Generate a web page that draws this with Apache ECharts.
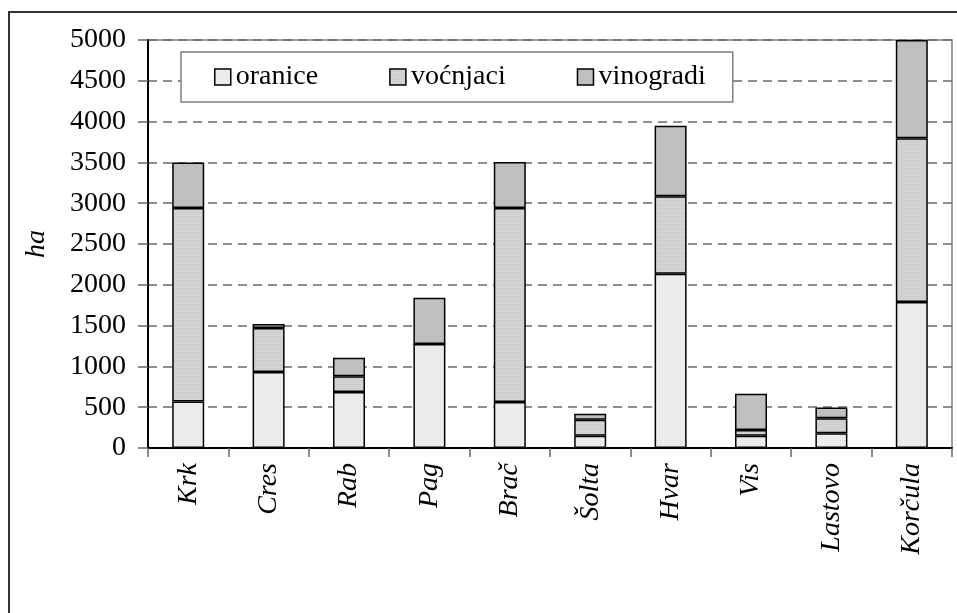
<!DOCTYPE html>
<html>
<head>
<meta charset="utf-8">
<script src="https://cdn.jsdelivr.net/npm/echarts@6/dist/echarts.min.js"></script>
<style>
  html, body { margin: 0; padding: 0; background: #ffffff; }
  #chart { width: 957px; height: 613px; }
</style>
</head>
<body>
<div id="chart"></div>
<script>
// Islands and land use (hectares), stacked per island
const categories = ['Krk', 'Cres', 'Rab', 'Pag', 'Brač', 'Šolta', 'Hvar', 'Vis', 'Lastovo', 'Korčula'];
const oranice   = [570, 930, 685, 1275, 565, 150, 2135, 150, 180, 1790];
const vocnjaci  = [2370, 540, 195, 0, 2375, 195, 950, 70, 185, 2005];
const vinogradi = [560, 50, 225, 565, 565, 75, 865, 445, 130, 1205];
const seriesNames = ['oranice', 'voćnjaci', 'vinogradi'];
const yTicks = [0, 500, 1000, 1500, 2000, 2500, 3000, 3500, 4000, 4500, 5000];

const FONT = '"Liberation Serif", "Times New Roman", serif';
const FS = 28;

// small dotted fill patterns
function makePattern(base, dot, cells) {
  const c = document.createElement('canvas');
  c.width = 4; c.height = 4;
  const ctx = c.getContext('2d');
  ctx.fillStyle = base;
  ctx.fillRect(0, 0, 4, 4);
  ctx.fillStyle = dot;
  cells.forEach(([x, y]) => ctx.fillRect(x, y, 1, 1));
  return { image: c, repeat: 'repeat' };
}
const fillOranice = makePattern('#eeeeee', '#dadada', [[0, 0], [2, 2]]);
const fillVocnjaci = makePattern('#d6d6d6', '#c2c2c2', [[0, 0], [2, 0], [1, 2], [3, 2]]);
const fillVinogradi = '#c0c0c0';

const chart = echarts.init(document.getElementById('chart'), null, { renderer: 'canvas' });

function barSeries(name, data, color) {
  return {
    name: name,
    type: 'bar',
    stack: 'total',
    data: data,
    barWidth: 32,
    itemStyle: { color: color, borderColor: '#000000', borderWidth: 1.5 },
    emphasis: { disabled: true },
    animation: false
  };
}

chart.setOption({
  backgroundColor: '#ffffff',
  animation: false,
  textStyle: { fontFamily: FONT },
  graphic: [{
    type: 'rect',
    shape: { x: 9, y: 12, width: 960, height: 640 },
    style: { fill: 'none', stroke: '#333333', lineWidth: 2 },
    silent: true,
    z: 100
  }],
  grid: {
    left: 148, right: 5, top: 40, bottom: 165,
    show: true,
    borderColor: '#808080',
    borderWidth: 1.5,
    backgroundColor: 'transparent'
  },
  legend: {
    data: seriesNames,
    left: 181,
    top: 52,
    orient: 'horizontal',
    icon: 'rect',
    itemWidth: 16,
    itemHeight: 16,
    itemGap: 71,
    padding: [11, 27, 11, 33],
    backgroundColor: '#ffffff',
    borderColor: '#808080',
    borderWidth: 1.5,
    borderRadius: 0,
    itemStyle: { borderColor: '#000000', borderWidth: 1.5 },
    textStyle: { fontFamily: FONT, fontSize: FS, color: '#000000' },
    selectedMode: false
  },
  xAxis: {
    type: 'category',
    data: categories,
    axisLine: { lineStyle: { color: '#000000', width: 2 } },
    axisTick: { show: true, length: 9, lineStyle: { color: '#666666', width: 1.5 } },
    axisLabel: {
      rotate: 90,
      margin: 15,
      interval: 0,
      fontFamily: FONT,
      fontSize: FS,
      fontStyle: 'italic',
      color: '#000000'
    },
    splitLine: { show: false }
  },
  yAxis: {
    type: 'value',
    min: yTicks[0],
    max: yTicks[yTicks.length - 1],
    interval: yTicks[1] - yTicks[0],
    name: 'ha',
    nameLocation: 'middle',
    nameRotate: 90,
    nameGap: 97,
    nameTextStyle: { fontFamily: FONT, fontSize: FS, fontStyle: 'italic', color: '#000000' },
    axisLine: { show: true, lineStyle: { color: '#000000', width: 2 } },
    axisTick: { show: true, length: 10, lineStyle: { color: '#666666', width: 1.5 } },
    axisLabel: {
      margin: 22,
      fontFamily: FONT,
      fontSize: FS,
      color: '#000000',
      formatter: v => String(v)
    },
    splitLine: { show: true, lineStyle: { color: '#6a6a6a', width: 1.5, type: [9, 6] } }
  },
  series: [
    barSeries(seriesNames[0], oranice, fillOranice),
    barSeries(seriesNames[1], vocnjaci, fillVocnjaci),
    barSeries(seriesNames[2], vinogradi, fillVinogradi)
  ]
});
</script>
</body>
</html>
